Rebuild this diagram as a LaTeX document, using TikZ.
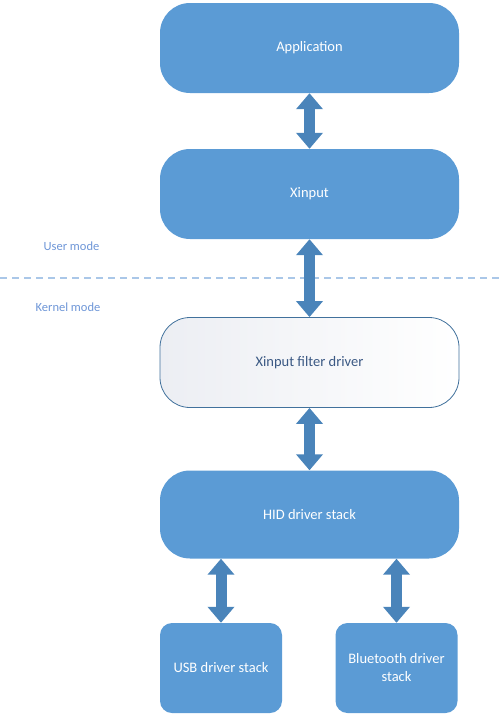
\documentclass[tikz,border=0pt]{standalone}
\usepackage{fontspec}
\setmainfont{Carlito}
\definecolor{boxblue}{RGB}{91, 155, 213}
\definecolor{arrowblue}{RGB}{74, 132, 186}
\definecolor{edgeblue}{RGB}{65, 113, 156}
\definecolor{textblue}{RGB}{59, 89, 132}
\definecolor{modeblue}{RGB}{110, 150, 215}
\definecolor{lineblue}{RGB}{170, 199, 232}
\definecolor{shadegray}{RGB}{236, 238, 243}
\usetikzlibrary{arrows.meta, positioning}

\tikzset{
  bigbox/.style={rounded corners=30pt, minimum width=299pt, minimum height=90pt,
    inner sep=0pt, fill=boxblue, text=white, font=\fontsize{14.5}{17}\selectfont},
  filterbox/.style={bigbox, fill=none, left color=shadegray, right color=white,
    draw=edgeblue, line width=0.8pt, text=textblue},
  smallbox/.style={rounded corners=12pt, minimum width=122pt, minimum height=90pt,
    inner sep=0pt, fill=boxblue, text=white, align=center,
    font=\fontsize{14.5}{18}\selectfont},
  dblarrow/.style={draw=arrowblue, line width=11pt,
    {Triangle[width=26pt, length=16pt]}-{Triangle[width=26pt, length=16pt]}},
  modelabel/.style={text=modeblue, font=\fontsize{12.5}{14}\selectfont}
}

\begin{document}
\begin{tikzpicture}[x=1pt, y=-1pt]
  \useasboundingbox (0, 0) rectangle (500, 721);

  % User mode / kernel mode split
  \coordinate (splitL) at (0, 278);
  \coordinate (splitR) at (500, 278);
  \draw[lineblue, line width=1.3pt, dash pattern=on 7pt off 5pt] (splitL) -- (splitR);
  \node[modelabel] (user) at (71.5, 246) {User mode};
  \node[modelabel] (kernel) at (68, 307) {Kernel mode};

  % The stack
  \node[bigbox] (app) at (309.5, 48) {Application};
  \node[bigbox] (xin) at (309.5, 194) {Xinput};
  \node[filterbox] (filter) at (309.5, 362.5) {Xinput filter driver};
  \node[bigbox, minimum height=88pt] (hid) at (309.5, 514.5) {HID driver stack};
  \node[smallbox] (usb) at (221, 668) {USB driver stack};
  \node[smallbox] (bt) at (396.5, 668) {Bluetooth driver\\stack};

  % Arrows
  \draw[dblarrow] (app.south) -- (xin.north);
  \draw[dblarrow] (xin.south) -- (filter.north);
  \draw[dblarrow] (filter.south) -- (hid.north);
  \draw[dblarrow] (usb.north |- hid.south) -- (usb.north);
  \draw[dblarrow] (bt.north |- hid.south) -- (bt.north);
\end{tikzpicture}
\end{document}
